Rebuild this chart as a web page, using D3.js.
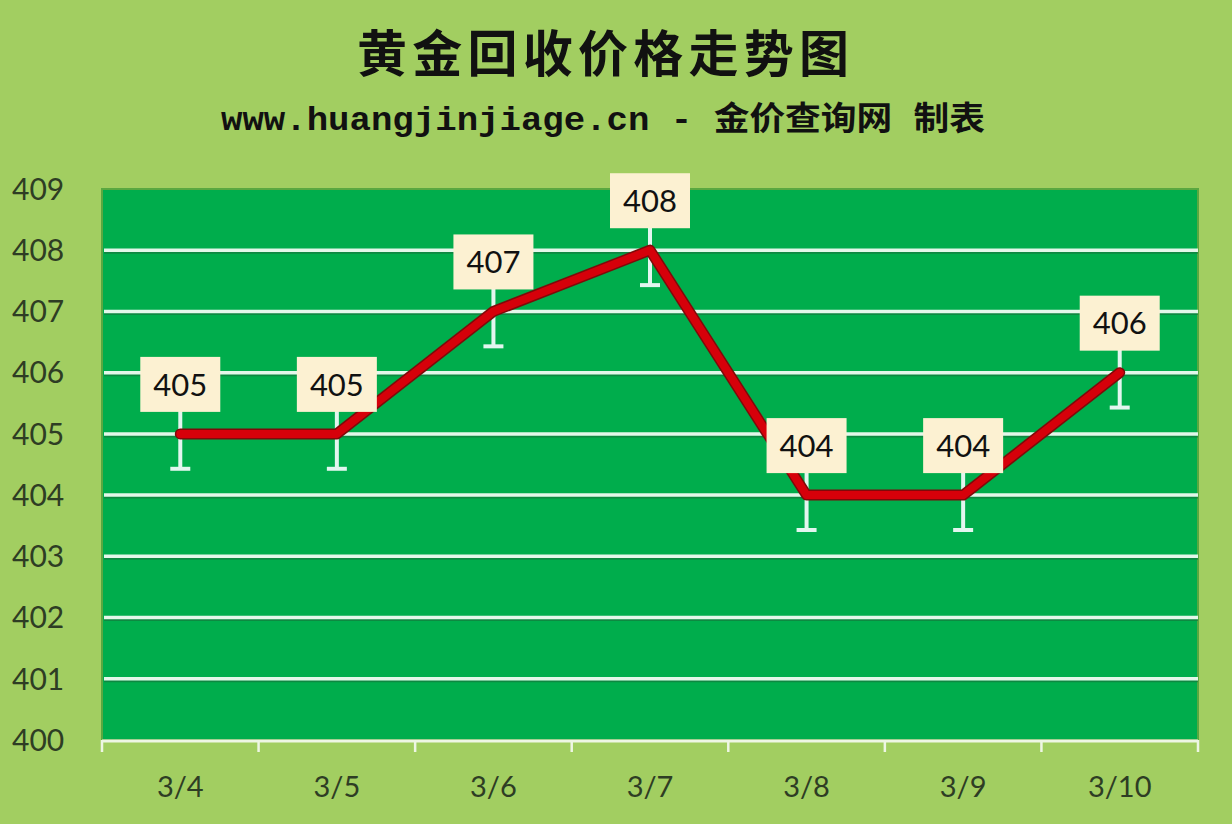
<!DOCTYPE html>
<html>
<head>
<meta charset="utf-8">
<script src="https://cdn.jsdelivr.net/npm/d3@7"></script>
<style>
  html, body { margin: 0; padding: 0; background: #a2ce61; }
  svg { display: block; }
</style>
</head>
<body>
<div id="chart"></div>
<script>
// ========= Data ========= //
const dates = ['3/4', '3/5', '3/6', '3/7', '3/8', '3/9', '3/10'];
const prices = [405, 405, 407, 408, 404, 404, 406];
const errorBars = [0.57, 0.57, 0.57, 0.57, 0.57, 0.57, 0.57];
const yTicks = [400, 401, 402, 403, 404, 405, 406, 407, 408, 409];
const title = '黄金回收价格走势图';
const subtitle = 'www.huangjinjiage.cn - 金价查询网 制表';

// ========= Layout ========= //
const width = 1232;
const height = 824;
const plot = { left: 102, right: 1198, top: 189, bottom: 740 };

const svg = d3.select('#chart').append('svg')
  .attr('width', width)
  .attr('height', height);

svg.append('rect')
  .attr('width', width)
  .attr('height', height)
  .attr('fill', '#a2ce61');

// ========= Scales ========= //
const x = d3.scaleBand()
  .domain(dates)
  .range([plot.left, plot.right])
  .padding(0);
const cx = (d) => x(d) + x.bandwidth() / 2;

const y = d3.scaleLinear()
  .domain([d3.min(yTicks), d3.max(yTicks)])
  .range([plot.bottom, plot.top]);

// ========= Titles ========= //
svg.append('text')
  .attr('x', 603)
  .attr('y', 72)
  .attr('text-anchor', 'middle')
  .attr('font-family', '"Noto Sans CJK SC", sans-serif')
  .attr('font-weight', 'bold')
  .attr('font-size', 50)
  .attr('textLength', 492)
  .attr('lengthAdjust', 'spacing')
  .attr('fill', '#111')
  .text(title);

svg.append('text')
  .attr('x', 603)
  .attr('y', 130)
  .attr('text-anchor', 'middle')
  .attr('font-family', '"Liberation Mono", "Noto Sans CJK SC", monospace')
  .attr('font-weight', 'bold')
  .attr('font-size', 33)
  .attr('textLength', 764)
  .attr('lengthAdjust', 'spacingAndGlyphs')
  .attr('fill', '#111')
  .text(subtitle);

// ========= Plot area ========= //
svg.append('rect')
  .attr('x', plot.left)
  .attr('y', plot.top)
  .attr('width', plot.right - plot.left)
  .attr('height', plot.bottom - plot.top)
  .attr('fill', '#00ad4c')
  .attr('stroke', '#5aa840')
  .attr('stroke-width', 2);

// gridlines with a dark shadow beneath
const innerTicks = yTicks.filter((t) => t > d3.min(yTicks) && t < d3.max(yTicks));
const grid = svg.append('g').attr('class', 'grid');
grid.selectAll('.grid-shadow')
  .data(innerTicks)
  .join('line')
  .attr('class', 'grid-shadow')
  .attr('x1', plot.left + 2)
  .attr('x2', plot.right)
  .attr('y1', (d) => y(d) + 2.5)
  .attr('y2', (d) => y(d) + 2.5)
  .attr('stroke', '#17703a')
  .attr('stroke-opacity', 0.6)
  .attr('stroke-width', 2);

grid.selectAll('.grid-line')
  .data(innerTicks)
  .join('line')
  .attr('class', 'grid-line')
  .attr('x1', plot.left + 2)
  .attr('x2', plot.right)
  .attr('y1', (d) => y(d))
  .attr('y2', (d) => y(d))
  .attr('stroke', '#e4f7ea')
  .attr('stroke-width', 3.5);

// ========= Axes ========= //
const yAxis = svg.append('g').attr('class', 'y-axis');
yAxis.selectAll('text')
  .data(yTicks)
  .join('text')
  .attr('x', 12)
  .attr('y', (d) => y(d))
  .attr('dy', '0.36em')
  .attr('font-family', 'Lato, "Open Sans", sans-serif')
  .attr('font-size', 30)
  .attr('fill', '#2e3d24')
  .text((d) => d);

const xAxis = svg.append('g').attr('class', 'x-axis');
xAxis.append('line')
  .attr('x1', plot.left)
  .attr('x2', plot.right)
  .attr('y1', plot.bottom + 1)
  .attr('y2', plot.bottom + 1)
  .attr('stroke', '#eef6e4')
  .attr('stroke-width', 3);

const boundaries = dates.map((d) => x(d)).concat([plot.right]);
xAxis.selectAll('.tick')
  .data(boundaries)
  .join('line')
  .attr('class', 'tick')
  .attr('x1', (d) => d)
  .attr('x2', (d) => d)
  .attr('y1', plot.bottom)
  .attr('y2', plot.bottom + 12)
  .attr('stroke', '#eef6e4')
  .attr('stroke-width', 2.5);

xAxis.selectAll('text')
  .data(dates)
  .join('text')
  .attr('x', (d) => cx(d))
  .attr('y', 787)
  .attr('dy', '0.36em')
  .attr('text-anchor', 'middle')
  .attr('font-family', 'Lato, "Open Sans", sans-serif')
  .attr('font-size', 29)
  .attr('fill', '#2e3d24')
  .text((d) => d);

// ========= Error bars ========= //
const points = dates.map((d, i) => ({ date: d, value: prices[i], err: errorBars[i] }));

const errs = svg.append('g').attr('class', 'errors');
errs.selectAll('.err-line')
  .data(points)
  .join('line')
  .attr('class', 'err-line')
  .attr('x1', (d) => cx(d.date))
  .attr('x2', (d) => cx(d.date))
  .attr('y1', (d) => y(d.value + d.err))
  .attr('y2', (d) => y(d.value - d.err))
  .attr('stroke', '#e2f6ef')
  .attr('stroke-width', 4);

errs.selectAll('.err-cap')
  .data(points)
  .join('line')
  .attr('class', 'err-cap')
  .attr('x1', (d) => cx(d.date) - 10)
  .attr('x2', (d) => cx(d.date) + 10)
  .attr('y1', (d) => y(d.value - d.err))
  .attr('y2', (d) => y(d.value - d.err))
  .attr('stroke', '#e2f6ef')
  .attr('stroke-width', 4);

// ========= Line ========= //
const line = d3.line()
  .x((d) => cx(d.date))
  .y((d) => y(d.value));

svg.append('path')
  .datum(points)
  .attr('fill', 'none')
  .attr('stroke', '#7e0a0a')
  .attr('stroke-width', 11)
  .attr('stroke-linejoin', 'round')
  .attr('stroke-linecap', 'round')
  .attr('d', line);

svg.append('path')
  .datum(points)
  .attr('fill', 'none')
  .attr('stroke', '#d6000a')
  .attr('stroke-width', 8)
  .attr('stroke-linejoin', 'round')
  .attr('stroke-linecap', 'round')
  .attr('d', line);

// ========= Data labels ========= //
const boxW = 80;
const boxH = 55;
const boxGap = 22;

const labels = svg.append('g').attr('class', 'labels')
  .selectAll('g')
  .data(points)
  .join('g')
  .attr('transform', (d) => `translate(${cx(d.date)} ${y(d.value) - boxGap - boxH / 2})`);

labels.append('rect')
  .attr('x', -boxW / 2)
  .attr('y', -boxH / 2)
  .attr('width', boxW)
  .attr('height', boxH)
  .attr('fill', '#fcf1d2');

labels.append('text')
  .attr('text-anchor', 'middle')
  .attr('dy', '0.36em')
  .attr('font-family', 'Lato, "Open Sans", sans-serif')
  .attr('font-size', 31)
  .attr('fill', '#111')
  .text((d) => d.value);
</script>
</body>
</html>
